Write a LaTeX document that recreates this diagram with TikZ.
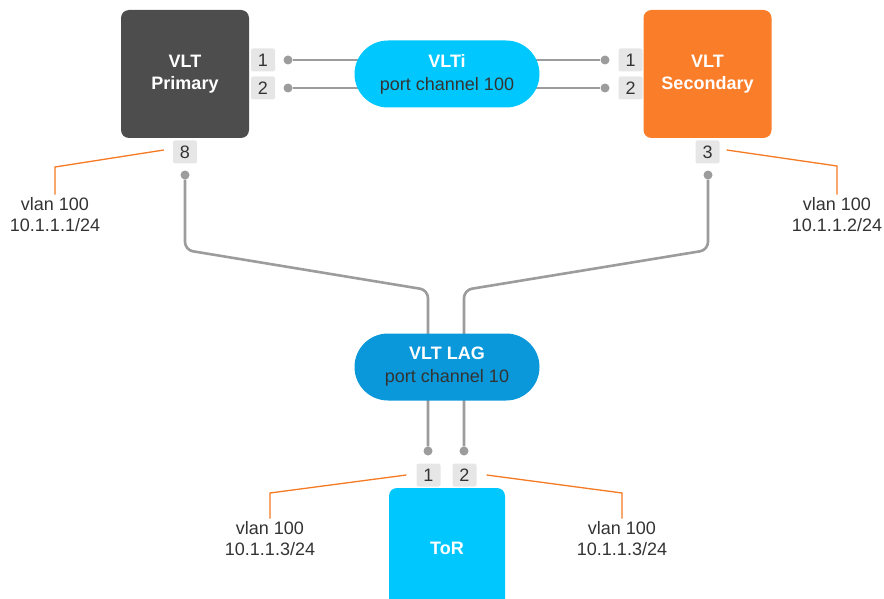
\documentclass[tikz,border=0pt]{standalone}
\usepackage{fontspec}
\setmainfont{Liberation Sans}
\usepackage{xcolor}
\usepackage{tikz}

\definecolor{primgray}{HTML}{4D4D4D}
\definecolor{secorange}{HTML}{FA7D2A}
\definecolor{lticyan}{HTML}{00C8FF}
\definecolor{lagblue}{HTML}{0A98DA}
\definecolor{linegray}{HTML}{9C9C9C}
\definecolor{portgray}{HTML}{E6E6E6}
\definecolor{calloutorange}{HTML}{F57A22}
\definecolor{textgray}{HTML}{333333}

\pgfdeclarelayer{background}
\pgfsetlayers{background,main}

\tikzset{
  switchbox/.style={rounded corners=8pt, minimum width=128pt, minimum height=128pt,
    inner sep=0pt, text=white, font=\fontsize{18}{22}\selectfont\bfseries, align=center},
  pill/.style={rounded corners=33.5pt, minimum width=185pt, minimum height=67pt,
    inner sep=0pt, text=textgray, align=center, font=\fontsize{18}{23}\selectfont},
  port/.style={fill=portgray, rounded corners=2pt, minimum width=24pt,
    minimum height=23pt, inner sep=0pt, text=textgray},
  dot/.style={circle, fill=linegray, minimum size=9pt, inner sep=0pt},
  link/.style={draw=linegray, line width=2.6pt, rounded corners=8pt},
  callout/.style={draw=calloutorange, line width=1.3pt},
  vlan/.style={align=center, text=textgray, inner sep=3pt}
}

\begin{document}
\begin{tikzpicture}[x=1pt, y=-1pt, font=\fontsize{18}{21}\selectfont]
  \clip (0,0) rectangle (884,599);

  % Draw switches
  \node[switchbox, fill=primgray] (prim) at (185,74) {VLT\\Primary};
  \node[switchbox, fill=secorange] (sec) at (707.5,74) {VLT\\Secondary};
  \node[switchbox, fill=lticyan, minimum width=116pt, minimum height=120pt] (tor) at (447,548) {ToR};

  % Draw port channels
  \node[pill, fill=lticyan] (vlti) at (447,74) {\textcolor{white}{\bfseries VLTi}\\port channel 100};
  \node[pill, fill=lagblue] (lag) at (447,367) {\textcolor{white}{\bfseries VLT LAG}\\port channel 10};

  % Draw ports
  \node[port] (prim1) at (263,60) {1};
  \node[port] (prim2) at (263,88) {2};
  \node[port] (prim8) at (185,152) {8};
  \node[port] (sec1) at (630.5,60) {1};
  \node[port] (sec2) at (630.5,88) {2};
  \node[port] (sec3) at (707.5,152) {3};
  \node[port] (tor1) at (428.5,475) {1};
  \node[port] (tor2) at (464.5,475) {2};

  % Draw link ends
  \node[dot] (dprim1) at (288,60) {};
  \node[dot] (dprim2) at (288,88) {};
  \node[dot] (dsec1) at (605,60) {};
  \node[dot] (dsec2) at (605,88) {};
  \node[dot] (dprim8) at (185,175) {};
  \node[dot] (dsec3) at (708,175) {};
  \node[dot] (dtor1) at (428,451) {};
  \node[dot] (dtor2) at (464,451) {};

  % Draw links
  \begin{pgfonlayer}{background}
    \draw[link] (dprim1) -- (dprim1 -| vlti.center) -- (dsec1);
    \draw[link] (dprim2) -- (dprim2 -| vlti.center) -- (dsec2);
    \draw[link] (dprim8) -- (185,250) -- (428,290) -- (lag.center -| dtor1) -- (dtor1);
    \draw[link] (dsec3) -- (708,250) -- (464,290) -- (lag.center -| dtor2) -- (dtor2);
  \end{pgfonlayer}

  % Draw vlan labels
  \node[vlan] (vprim) at (55,215) {vlan 100\\10.1.1.1/24};
  \node[vlan] (vsec) at (837,215) {vlan 100\\10.1.1.2/24};
  \node[vlan] (vtor1) at (270,539) {vlan 100\\10.1.1.3/24};
  \node[vlan] (vtor2) at (622,539) {vlan 100\\10.1.1.3/24};

  \draw[callout] ([xshift=-9pt,yshift=2pt]prim8.west) -- (vprim.north |- 0,167) -- (vprim.north);
  \draw[callout] ([xshift=7pt,yshift=2pt]sec3.east) -- (vsec.north |- 0,166) -- (vsec.north);
  \draw[callout] ([xshift=-10pt]tor1.west) -- (vtor1.north |- 0,493) -- (vtor1.north);
  \draw[callout] ([xshift=10pt]tor2.east) -- (vtor2.north |- 0,493) -- (vtor2.north);
\end{tikzpicture}
\end{document}
